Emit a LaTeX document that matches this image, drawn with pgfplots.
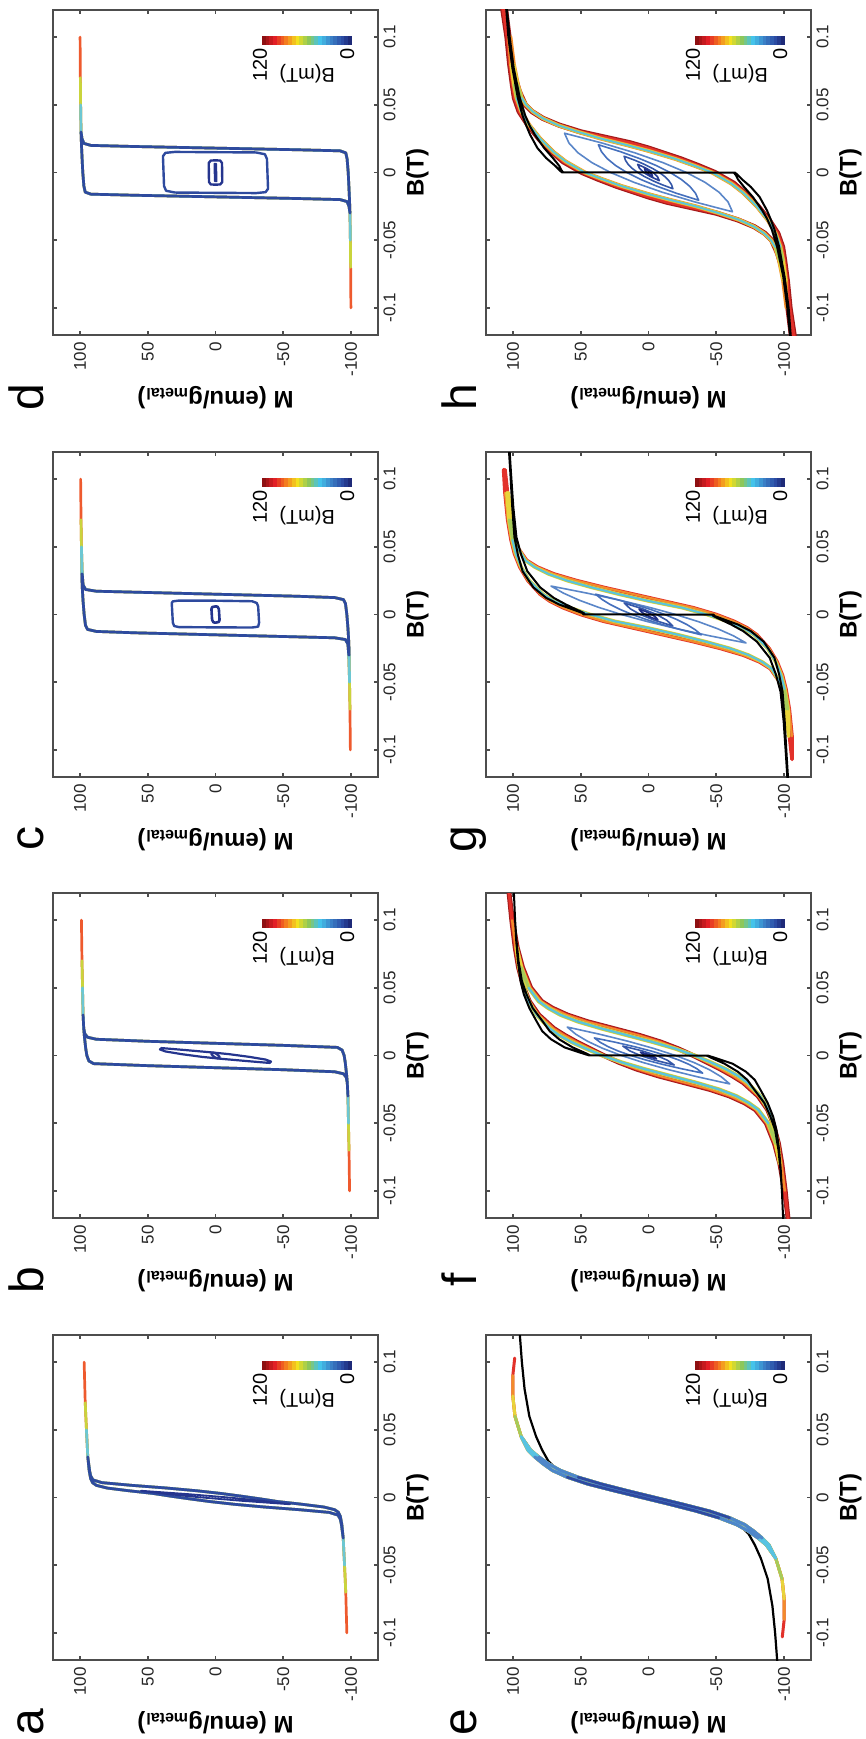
\documentclass[border=0pt]{standalone}
\usepackage{fontspec}
\setmainfont{Liberation Sans}
\usepackage{pgfplots}
\usepackage{pgfplotstable}
\pgfplotsset{compat=1.18}

\definecolor{axc}{HTML}{4D4D4D}
\definecolor{cbA}{HTML}{8E1012}
\definecolor{cbB}{HTML}{E21F26}
\definecolor{cbC}{HTML}{F47C20}
\definecolor{cbD}{HTML}{F2E11F}
\definecolor{cbE}{HTML}{8DC75A}
\definecolor{cbF}{HTML}{44C3EA}
\definecolor{cbG}{HTML}{3A7FC6}
\definecolor{cbH}{HTML}{2B4BA3}
\definecolor{cbI}{HTML}{1E2A78}
\definecolor{satR}{HTML}{EE5A2E}
\definecolor{satY}{HTML}{C9D43C}
\definecolor{satC}{HTML}{6CC7D2}
\definecolor{mainB}{HTML}{2E4A9E}
\definecolor{innerB}{HTML}{25358E}
\definecolor{cDR}{HTML}{A51A1A}
\definecolor{cR}{HTML}{E2312A}
\definecolor{cO}{HTML}{F28C2A}
\definecolor{cY}{HTML}{E8D43A}
\definecolor{cYG}{HTML}{A6CB5A}
\definecolor{cC}{HTML}{58C3E2}
\definecolor{cLB}{HTML}{4E86C9}
\definecolor{cB}{HTML}{2F4AA0}
\definecolor{mA}{HTML}{5A86C8}
\definecolor{mB}{HTML}{4570BD}
\definecolor{mC}{HTML}{3557A8}
\definecolor{mD}{HTML}{2A4299}
\definecolor{mE}{HTML}{21318A}

% ---------------- panel a ----------------
\pgfplotstableread{
B M
0.1 97
0.07 96.2
0.05 95.3
0.03 94.3
0.02 93.3
0.014 92.2
0.011 90.8
0.009 88
0.007 80
0.005 64
0.003 46
0.001 33
0 26
-0.001 19
-0.003 4
-0.005 -14
-0.007 -36
-0.009 -62
-0.011 -84
-0.013 -90.5
-0.016 -92.2
-0.02 -93
-0.03 -94.3
-0.05 -95.3
-0.07 -96.2
-0.1 -97
-0.07 -96.2
-0.05 -95.3
-0.03 -94.3
-0.02 -93.3
-0.014 -92.2
-0.011 -90.8
-0.009 -88
-0.007 -80
-0.005 -64
-0.003 -46
-0.001 -33
0 -26
0.001 -19
0.003 -4
0.005 14
0.007 36
0.009 62
0.011 84
0.013 90.5
0.016 92.2
0.02 93
0.03 94.3
0.05 95.3
0.07 96.2
0.1 97
}\dataAL
\pgfplotstableread{
B M
0.005 55
0.0025 35
0 10
-0.0025 -20
-0.005 -55
-0.0025 -35
0 -10
0.0025 20
0.005 55
}\dataAM

% ---------------- panel b ----------------
\pgfplotstableread{
B M
0.1 99
0.07 98.6
0.05 98.2
0.03 97.8
0.02 97.3
0.014 96.8
0.005 95.8
0 95
-0.004 93.5
-0.006 90
-0.0075 50
-0.009 0
-0.0105 -50
-0.012 -88
-0.0135 -94.5
-0.016 -96.5
-0.02 -97.3
-0.03 -97.8
-0.05 -98.2
-0.07 -98.6
-0.1 -99
-0.07 -98.6
-0.05 -98.2
-0.03 -97.8
-0.02 -97.3
-0.014 -96.8
-0.005 -95.8
0 -95
0.004 -93.5
0.006 -90
0.0075 -50
0.009 0
0.0105 50
0.012 88
0.0135 94.5
0.016 96.5
0.02 97.3
0.03 97.8
0.05 98.2
0.07 98.6
0.1 99
}\dataBL
\pgfplotstableread{
B M
0.0055 40
0.0045 41
0.003 37
0.001 25
-0.001 10
-0.0025 -5
-0.004 -22
-0.005 -34
-0.0055 -40
-0.0045 -41
-0.003 -37
-0.001 -25
0.001 -10
0.0025 5
0.004 22
0.005 34
0.0055 40
}\dataBM
\pgfplotstableread{
B M
0.002 3
0.001 3
-0.001 1
-0.002 -1
-0.002 -3
-0.001 -3
0.001 -1
0.002 1
0.002 3
}\dataBT

% ---------------- panel c ----------------
\pgfplotstableread{
B M
0.1 99.6
0.07 99.3
0.05 99
0.03 98.7
0.02 98.4
0.01 97.8
0 97
-0.008 96
-0.011 94.5
-0.0125 88
-0.0135 60
-0.0145 20
-0.0155 -20
-0.0165 -60
-0.0172 -88
-0.0185 -96
-0.022 -97.8
-0.03 -98.4
-0.05 -99
-0.07 -99.3
-0.1 -99.6
-0.07 -99.3
-0.05 -99
-0.03 -98.7
-0.02 -98.4
-0.01 -97.8
0 -97
0.008 -96
0.011 -94.5
0.0125 -88
0.0135 -60
0.0145 -20
0.0155 20
0.0165 60
0.0172 88
0.0185 96
0.022 97.8
0.03 98.4
0.05 99
0.07 99.3
0.1 99.6
}\dataCL
\pgfplotstableread{
B M
0.0102 0
0.0103 27
0.0097 31.5
0.0085 32.3
-0.006 31.5
-0.0085 30.5
-0.0093 27
-0.0095 0
-0.0096 -27
-0.009 -31.5
-0.006 -32.2
0.006 -31.5
0.0085 -30.5
0.0098 -27
0.0102 0
}\dataCM
\pgfplotstableread{
B M
0.006 0
0.0055 2.5
0.004 3
-0.004 2.5
-0.0058 1.5
-0.006 0
-0.0055 -2.5
-0.004 -3
0.004 -2.5
0.0058 -1.5
0.006 0
}\dataCT

% ---------------- panel d ----------------
\pgfplotstableread{
B M
0.1 100
0.07 99.8
0.05 99.6
0.03 99.3
0.021 99
0.01 98.5
0 98
-0.01 97.2
-0.0145 96.2
-0.016 92
-0.0168 60
-0.0176 20
-0.0184 -20
-0.0192 -60
-0.02 -92
-0.0215 -97.2
-0.025 -98.6
-0.03 -99.3
-0.05 -99.6
-0.07 -99.8
-0.1 -100
-0.07 -99.8
-0.05 -99.6
-0.03 -99.3
-0.021 -99
-0.01 -98.5
0 -98
0.01 -97.2
0.0145 -96.2
0.016 -92
0.0168 -60
0.0176 -20
0.0184 20
0.0192 60
0.02 92
0.0215 97.2
0.025 98.6
0.03 99.3
0.05 99.6
0.07 99.8
0.1 100
}\dataDL
\pgfplotstableread{
B M
0.015 0
0.0152 30
0.0145 37
0.012 38.8
-0.01 38
-0.0135 36.5
-0.0148 30
-0.015 0
-0.0152 -30
-0.0145 -37
-0.012 -38.8
0.01 -38
0.0135 -36.5
0.0148 -30
0.015 0
}\dataDM
\pgfplotstableread{
B M
0.009 0
0.0088 3.5
0.007 5
-0.007 4.8
-0.0088 3.5
-0.009 0
-0.0088 -3.5
-0.007 -5
0.007 -4.8
0.0088 -3.5
0.009 0
}\dataDT
\pgfplotstableread{
B M
0.0065 0.8
-0.0065 0.5
-0.0065 -0.8
0.0065 -0.5
0.0065 0.8
}\dataDU

% ---------------- panel e ----------------
\pgfplotstableread{
B M
0.103 98.8
0.09 100.2
0.075 100.2
0.06 98.6
0.045 94
0.035 89
0.03 84
0.025 78
0.02 71
0.015 60
0.01 45
0.005 25.5
0 5
-0.005 -15.5
-0.01 -35
-0.015 -52
-0.02 -65
-0.025 -74
-0.03 -81
-0.035 -87
-0.045 -94
-0.06 -98.6
-0.075 -100.2
-0.09 -100.2
-0.103 -98.8
-0.09 -100.2
-0.075 -100.2
-0.06 -98.6
-0.045 -94
-0.035 -89
-0.03 -84
-0.025 -78
-0.02 -71
-0.015 -60
-0.01 -45
-0.005 -25.5
0 -5
0.005 15.5
0.01 35
0.015 52
0.02 65
0.025 74
0.03 81
0.035 87
0.045 94
0.06 98.6
0.075 100.2
0.09 100.2
0.103 98.8
}\dataEL
\pgfplotstableread{
B M
-0.125 -95.5
-0.12 -95
-0.1 -93.5
-0.08 -91.5
-0.06 -88
-0.045 -83
-0.035 -78.5
-0.027 -74
-0.02 -67
-0.015 -56
-0.01 -40
-0.005 -20
0 0
0.005 20
0.01 40
0.015 56
0.02 67
0.027 74
0.035 78.5
0.045 83
0.06 88
0.08 91.5
0.1 93.5
0.12 95
0.125 95.5
}\dataEK

% ---------------- panel f ----------------
\pgfplotstableread{
B M
0.13 104
0.12 103
0.1 101
0.08 98.5
0.065 96
0.05 92
0.04 88
0.03 81
0.02 70
0.015 62
0.01 53
0.005 43
0 33
-0.005 22
-0.01 9
-0.015 -7
-0.02 -26
-0.025 -45
-0.03 -60
-0.035 -71
-0.04 -79
-0.05 -87
-0.065 -93
-0.08 -97
-0.1 -100.5
-0.12 -103
-0.13 -104
-0.12 -103
-0.1 -101
-0.08 -98.5
-0.065 -96
-0.05 -92
-0.04 -88
-0.03 -81
-0.02 -70
-0.015 -62
-0.01 -53
-0.005 -43
0 -33
0.005 -22
0.01 -9
0.015 7
0.02 26
0.025 45
0.03 60
0.035 71
0.04 79
0.05 87
0.065 93
0.08 97
0.1 100.5
0.12 103
0.13 104
}\dataFR
\pgfplotstableread{
B M
0.08 97.5
0.065 95.5
0.05 92
0.04 88.5
0.03 82.5
0.02 73
0.015 66
0.01 57
0.005 46
0 34
-0.005 20
-0.01 3
-0.015 -16
-0.02 -35
-0.025 -52
-0.03 -65
-0.035 -74
-0.04 -81
-0.05 -88.5
-0.065 -94
-0.08 -97
-0.065 -95.5
-0.05 -92
-0.04 -88.5
-0.03 -82.5
-0.02 -73
-0.015 -66
-0.01 -57
-0.005 -46
0 -34
0.005 -20
0.01 -3
0.015 16
0.02 35
0.025 52
0.03 65
0.035 74
0.04 81
0.05 88.5
0.065 94
0.08 97.5
}\dataFC
\pgfplotstableread{
B M
0.13 100
0.12 99.4
0.1 98.5
0.085 97.7
0.07 96.5
0.055 94.5
0.045 92
0.035 88
0.025 82.5
0.018 78.5
0.012 72
0.006 62
0.002 50
0.0001 44
-0.0001 -43
-0.002 -47
-0.006 -56
-0.012 -66
-0.018 -73
-0.025 -78
-0.035 -85.5
-0.045 -90
-0.055 -93.5
-0.07 -96
-0.085 -97.5
-0.1 -98.5
-0.12 -99.4
-0.13 -100
-0.12 -99.4
-0.1 -98.5
-0.085 -97.7
-0.07 -96.5
-0.055 -94.5
-0.045 -92
-0.035 -88
-0.025 -82.5
-0.018 -78.5
-0.012 -72
-0.006 -62
-0.002 -50
-0.0001 -44
0.0001 43
0.002 47
0.006 56
0.012 66
0.018 73
0.025 78
0.035 85.5
0.045 90
0.055 93.5
0.07 96
0.085 97.5
0.1 98.5
0.12 99.4
0.13 100
}\dataFK
\pgfplotstableread{
B M
0.021 60
0.01575 53.75
0.0105 45
0.00525 33.75
0 20
-0.00525 3.75
-0.0105 -15
-0.01575 -36.25
-0.021 -60
-0.01575 -53.75
-0.0105 -45
-0.00525 -33.75
0 -20
0.00525 -3.75
0.0105 15
0.01575 36.25
0.021 60
}\dataFmA
\pgfplotstableread{
B M
0.013 40
0.00975 35.7
0.0065 29.75
0.00325 22.2
0 13
-0.00325 2.2
-0.0065 -10.25
-0.00975 -24.3
-0.013 -40
-0.00975 -35.7
-0.0065 -29.75
-0.00325 -22.2
0 -13
0.00325 -2.2
0.0065 10.25
0.00975 24.3
0.013 40
}\dataFmB
\pgfplotstableread{
B M
0.007 19
0.0035 14
0 6
-0.0035 -5
-0.007 -19
-0.0035 -14
0 -6
0.0035 5
0.007 19
}\dataFmC
\pgfplotstableread{
B M
0.0025 6
0.00125 4.5
0 2
-0.00125 -1.5
-0.0025 -6
-0.00125 -4.5
0 -2
0.00125 1.5
0.0025 6
}\dataFmD

% ---------------- panel g ----------------
\pgfplotstableread{
B M
0.107 107
0.09 106
0.07 104
0.055 101.5
0.045 99
0.035 95
0.025 89
0.015 80
0.01 73
0.005 63
0 50
-0.005 33
-0.01 11
-0.015 -11
-0.02 -33
-0.025 -53
-0.03 -70
-0.035 -82
-0.04 -90
-0.05 -97
-0.06 -100
-0.08 -103
-0.107 -106
-0.09 -106
-0.07 -104
-0.055 -101.5
-0.045 -99
-0.035 -95
-0.025 -89
-0.015 -80
-0.01 -73
-0.005 -63
0 -50
0.005 -33
0.01 -11
0.015 11
0.02 33
0.025 53
0.03 70
0.035 82
0.04 90
0.05 97
0.06 100
0.08 103
0.107 106
}\dataGR
\pgfplotstableread{
B M
0.09 104.5
0.07 103
0.055 100.5
0.045 98
0.035 94
0.025 88
0.015 78
0.01 70
0.005 58
0 43
-0.005 25
-0.01 0
-0.015 -22
-0.02 -42
-0.025 -60
-0.03 -74
-0.035 -84
-0.04 -91
-0.05 -97
-0.06 -99.5
-0.07 -101.5
-0.09 -103.5
-0.07 -103
-0.055 -100.5
-0.045 -98
-0.035 -94
-0.025 -88
-0.015 -78
-0.01 -70
-0.005 -58
0 -43
0.005 -25
0.01 0
0.015 22
0.02 42
0.025 60
0.03 74
0.035 84
0.04 91
0.05 97
0.06 99.5
0.07 101.5
0.09 103.5
}\dataGC
\pgfplotstableread{
B M
0.125 103.5
0.12 103
0.104 102
0.079 100.6
0.057 99
0.044 96.4
0.032 93
0.02 85
0.0123 75.6
0.0074 66
0.0012 49
0.0001 48
-0.0001 -47
-0.0012 -48
-0.0074 -61
-0.0123 -70
-0.02 -80
-0.032 -89.5
-0.044 -94
-0.057 -97.5
-0.079 -99.8
-0.104 -101.5
-0.12 -102.5
-0.125 -103
-0.12 -103
-0.104 -102
-0.079 -100.6
-0.057 -99
-0.044 -96.4
-0.032 -93
-0.02 -85
-0.0123 -75.6
-0.0074 -66
-0.0012 -49
-0.0001 -48
0.0001 47
0.0012 48
0.0074 61
0.0123 70
0.02 80
0.032 89.5
0.044 94
0.057 97.5
0.079 99.8
0.104 101.5
0.12 102.5
0.125 103
}\dataGK
\pgfplotstableread{
B M
0.021 72
0.01575 62.75
0.0105 51
0.00525 36.75
0 20
-0.00525 0.75
-0.0105 -21
-0.01575 -45.25
-0.021 -72
-0.01575 -62.75
-0.0105 -51
-0.00525 -36.75
0 -20
0.00525 -0.75
0.0105 21
0.01575 45.25
0.021 72
}\dataGmA
\pgfplotstableread{
B M
0.015 39
0.01125 34.5
0.0075 28.5
0.00375 21
0 12
-0.00375 1.5
-0.0075 -10.5
-0.01125 -24
-0.015 -39
-0.01125 -34.5
-0.0075 -28.5
-0.00375 -21
0 -12
0.00375 -1.5
0.0075 10.5
0.01125 24
0.015 39
}\dataGmB
\pgfplotstableread{
B M
0.0085 18
0.00425 13.5
0 6
-0.00425 -4.5
-0.0085 -18
-0.00425 -13.5
0 -6
0.00425 4.5
0.0085 18
}\dataGmC
\pgfplotstableread{
B M
0.004 7
0.002 5.4
0 2.5
-0.002 -1.6
-0.004 -7
-0.002 -5.4
0 -2.5
0.002 1.6
0.004 7
}\dataGmD

% ---------------- panel h ----------------
\pgfplotstableread{
B M
0.13 108.5
0.12 107.5
0.1 104.5
0.08 102.5
0.065 100.5
0.055 99
0.045 95.5
0.035 89
0.025 81
0.015 71
0.008 63
0 49
-0.005 37
-0.01 24
-0.015 9
-0.018 0
-0.022 -14
-0.026 -32
-0.03 -50
-0.035 -66
-0.04 -78
-0.045 -86
-0.05 -91
-0.06 -95.5
-0.07 -98.5
-0.08 -100.5
-0.1 -103
-0.12 -105.5
-0.13 -106.5
-0.13 -108.5
-0.12 -107.5
-0.1 -104.5
-0.08 -102.5
-0.065 -100.5
-0.055 -99
-0.045 -95.5
-0.035 -89
-0.025 -81
-0.015 -71
-0.008 -63
0 -49
0.005 -37
0.01 -24
0.015 -9
0.018 0
0.022 14
0.026 32
0.03 50
0.035 66
0.04 78
0.045 86
0.05 91
0.06 95.5
0.07 98.5
0.08 100.5
0.1 103
0.12 105.5
0.13 106.5
}\dataHR
\pgfplotstableread{
B M
0.1 103
0.08 101.5
0.065 99.5
0.055 97.5
0.045 94
0.035 88
0.025 80
0.015 70
0.008 61
0 47
-0.005 34
-0.01 20
-0.016 0
-0.02 -15
-0.025 -35
-0.03 -52
-0.035 -67
-0.04 -78
-0.045 -85.5
-0.05 -90.5
-0.055 -93.5
-0.065 -96.5
-0.08 -99.5
-0.1 -102
-0.08 -101.5
-0.065 -99.5
-0.055 -97.5
-0.045 -94
-0.035 -88
-0.025 -80
-0.015 -70
-0.008 -61
0 -47
0.005 -34
0.01 -20
0.016 0
0.02 15
0.025 35
0.03 52
0.035 67
0.04 78
0.045 85.5
0.05 90.5
0.055 93.5
0.065 96.5
0.08 99.5
0.1 102
}\dataHC
\pgfplotstableread{
B M
0.13 106.5
0.12 105
0.1 103.5
0.077 100.5
0.055 96.5
0.042 93
0.034 90
0.028 87.5
0.018 82
0.0106 75.5
0.005 69
0.002 66
0.0001 64
-0.0001 -63
-0.002 -64.5
-0.005 -66
-0.0106 -70.5
-0.018 -77
-0.028 -84
-0.034 -87.5
-0.042 -91
-0.055 -95
-0.077 -99.5
-0.1 -102.5
-0.12 -104.5
-0.13 -105.5
-0.13 -106.5
-0.12 -105
-0.1 -103.5
-0.077 -100.5
-0.055 -96.5
-0.042 -93
-0.034 -90
-0.028 -87.5
-0.018 -82
-0.0106 -75.5
-0.005 -69
-0.002 -66
-0.0001 -64
0.0001 63
0.002 64.5
0.005 66
0.0106 70.5
0.018 77
0.028 84
0.034 87.5
0.042 91
0.055 95
0.077 99.5
0.1 102.5
0.12 104.5
0.13 105.5
}\dataHK
\pgfplotstableread{
B M
0.029 62
0.02175 58.75
0.0145 52
0.00725 41.75
0 28
-0.00725 10.75
-0.0145 -10
-0.02175 -34.25
-0.029 -62
-0.02175 -58.75
-0.0145 -52
-0.00725 -41.75
0 -28
0.00725 -10.75
0.0145 10
0.02175 34.25
0.029 62
}\dataHmA
\pgfplotstableread{
B M
0.0205 37
0.015375 34.75
0.01025 30.5
0.005125 24.25
0 16
-0.005125 5.75
-0.01025 -6.5
-0.015375 -20.75
-0.0205 -37
-0.015375 -34.75
-0.01025 -30.5
-0.005125 -24.25
0 -16
0.005125 -5.75
0.01025 6.5
0.015375 20.75
0.0205 37
}\dataHmB
\pgfplotstableread{
B M
0.012 18
0.009 17
0.006 15
0.003 12
0 8
-0.003 3
-0.006 -3
-0.009 -10
-0.012 -18
-0.009 -17
-0.006 -15
-0.003 -12
0 -8
0.003 -3
0.006 3
0.009 10
0.012 18
}\dataHmC
\pgfplotstableread{
B M
0.006 8
0.003 6.6
0 3.5
-0.003 -1.4
-0.006 -8
-0.003 -6.6
0 -3.5
0.003 1.4
0.006 8
}\dataHmD
\pgfplotstableread{
B M
0.003 3
0.0015 2.55
0 1.4
-0.0015 -0.45
-0.003 -3
-0.0015 -2.55
0 -1.4
0.0015 0.45
0.003 3
}\dataHmE

\pgfplotsset{
  hpanel/.style={
    scale only axis, width=162.5pt, height=162.5pt, anchor=center,
    xmin=-120, xmax=120, x dir=reverse,
    ymin=-0.12, ymax=0.12,
    xtick={-100,-50,0,50,100}, xticklabels={-100,-50,0,50,100},
    ytick={-0.1,-0.05,0,0.05,0.1}, yticklabels={-0.1,-0.05,0,0.05,0.1},
    tick align=inside, tick pos=both, yticklabel pos=right,
    major tick length=2pt,
    axis line style={draw=axc, line width=0.8pt},
    tick style={draw=axc, line width=0.8pt},
    xticklabel style={rotate=90, anchor=east, inner sep=0.5pt, font=\fontsize{8.5}{10}\selectfont, text=black!85},
    yticklabel style={rotate=90, anchor=north, inner sep=0.5pt, font=\fontsize{8.5}{10}\selectfont, text=black!85},
    xticklabel shift=3pt, yticklabel shift=2pt,
    clip mode=individual, no markers,
    every axis plot/.append style={line join=round, line cap=round},
  },
  lwA/.style={line width=1.35pt},
}

\newcommand{\cbseg}[3]{\fill[#1] (axis description cs:#2,0.892) rectangle (axis description cs:#3,0.92);}
\newcommand{\decor}[1]{%
  \cbseg{cbA}{0.6430}{0.6565}
  \cbseg{cbA!67!cbB}{0.6545}{0.6681}
  \cbseg{cbA!33!cbB}{0.6661}{0.6796}
  \cbseg{cbB}{0.6776}{0.6912}
  \cbseg{cbB!67!cbC}{0.6892}{0.7027}
  \cbseg{cbB!33!cbC}{0.7007}{0.7143}
  \cbseg{cbC}{0.7123}{0.7258}
  \cbseg{cbC!67!cbD}{0.7238}{0.7373}
  \cbseg{cbC!33!cbD}{0.7353}{0.7489}
  \cbseg{cbD}{0.7469}{0.7604}
  \cbseg{cbD!67!cbE}{0.7584}{0.7720}
  \cbseg{cbD!33!cbE}{0.7700}{0.7835}
  \cbseg{cbE}{0.7815}{0.7950}
  \cbseg{cbE!67!cbF}{0.7930}{0.8066}
  \cbseg{cbE!33!cbF}{0.8046}{0.8181}
  \cbseg{cbF}{0.8161}{0.8297}
  \cbseg{cbF!67!cbG}{0.8277}{0.8412}
  \cbseg{cbF!33!cbG}{0.8392}{0.8528}
  \cbseg{cbG}{0.8508}{0.8643}
  \cbseg{cbG!67!cbH}{0.8623}{0.8758}
  \cbseg{cbG!33!cbH}{0.8738}{0.8874}
  \cbseg{cbH}{0.8854}{0.8989}
  \cbseg{cbH!50!cbI}{0.8969}{0.9105}
  \cbseg{cbI}{0.9085}{0.9200}
  \node[rotate=90, anchor=east, inner sep=0pt, font=\fontsize{10}{12}\selectfont] at (axis description cs:0.637,0.883) {120};
  \node[rotate=90, anchor=east, inner sep=0pt, font=\fontsize{10}{12}\selectfont] at (axis description cs:0.905,0.883) {0};
  \node[rotate=180, inner sep=0pt, font=\fontsize{10}{12}\selectfont] at (axis description cs:0.782,0.805) {B(mT)};
  \node[rotate=180, inner sep=0pt, font=\bfseries\fontsize{12}{14}\selectfont] at (axis description cs:0.5,-0.194) {M (emu/g\textsubscript{metal})};
  \node[rotate=90, inner sep=0pt, font=\bfseries\fontsize{12}{14}\selectfont] at (axis description cs:1.1215,0.5) {B(T)};
  \node[rotate=90, anchor=base, inner sep=0pt, font=\fontsize{24}{28}\selectfont] at (axis description cs:-0.03,-0.19) {#1};
}

\begin{document}
\begin{tikzpicture}
\path[use as bounding box] (0,0) rectangle (433pt,-869.5pt);

% ---- a ----
\begin{axis}[hpanel, at={(107.75pt,-748.75pt)}]
\addplot[satR, lwA] table[x=M,y=B]{\dataAL};
\addplot[satY, lwA, restrict y to domain=-0.0705:0.0705] table[x=M,y=B]{\dataAL};
\addplot[satC, lwA, restrict y to domain=-0.0505:0.0505] table[x=M,y=B]{\dataAL};
\addplot[mainB, lwA, restrict y to domain=-0.0305:0.0305] table[x=M,y=B]{\dataAL};
\addplot[innerB, line width=0.9pt] table[x=M,y=B]{\dataAM};
\decor{a}
\end{axis}

% ---- b ----
\begin{axis}[hpanel, at={(107.75pt,-527.75pt)}]
\addplot[satR, lwA] table[x=M,y=B]{\dataBL};
\addplot[satY, lwA, restrict y to domain=-0.0705:0.0705] table[x=M,y=B]{\dataBL};
\addplot[satC, lwA, restrict y to domain=-0.0505:0.0505] table[x=M,y=B]{\dataBL};
\addplot[mainB, lwA, restrict y to domain=-0.0305:0.0305] table[x=M,y=B]{\dataBL};
\addplot[innerB, line width=1.1pt] table[x=M,y=B]{\dataBM};
\addplot[innerB, line width=1.1pt] table[x=M,y=B]{\dataBT};
\decor{b}
\end{axis}

% ---- c ----
\begin{axis}[hpanel, at={(107.75pt,-307.25pt)}]
\addplot[satR, lwA] table[x=M,y=B]{\dataCL};
\addplot[satY, lwA, restrict y to domain=-0.0705:0.0705] table[x=M,y=B]{\dataCL};
\addplot[satC, lwA, restrict y to domain=-0.0505:0.0505] table[x=M,y=B]{\dataCL};
\addplot[mainB, lwA, restrict y to domain=-0.0305:0.0305] table[x=M,y=B]{\dataCL};
\addplot[mainB, line width=1.2pt] table[x=M,y=B]{\dataCM};
\addplot[innerB, line width=1.3pt] table[x=M,y=B]{\dataCT};
\decor{c}
\end{axis}

% ---- d ----
\begin{axis}[hpanel, at={(107.75pt,-86.25pt)}]
\addplot[satR, lwA] table[x=M,y=B]{\dataDL};
\addplot[satY, lwA, restrict y to domain=-0.0705:0.0705] table[x=M,y=B]{\dataDL};
\addplot[satC, lwA, restrict y to domain=-0.0505:0.0505] table[x=M,y=B]{\dataDL};
\addplot[mainB, lwA, restrict y to domain=-0.0305:0.0305] table[x=M,y=B]{\dataDL};
\addplot[mainB, line width=1.2pt] table[x=M,y=B]{\dataDM};
\addplot[innerB, line width=1.2pt] table[x=M,y=B]{\dataDT};
\addplot[innerB, line width=0.9pt] table[x=M,y=B]{\dataDU};
\decor{d}
\end{axis}

% ---- e ----
\begin{axis}[hpanel, at={(324.25pt,-748.75pt)}]
\addplot[black, line width=1.1pt] table[x=M,y=B]{\dataEK};
\addplot[cR, line width=1.5pt] table[x=M,y=B]{\dataEL};
\addplot[cO, line width=1.5pt, restrict y to domain=-0.0905:0.0905] table[x=M,y=B]{\dataEL};
\addplot[cY, line width=1.5pt, restrict y to domain=-0.0755:0.0755] table[x=M,y=B]{\dataEL};
\addplot[cYG, line width=1.5pt, restrict y to domain=-0.0605:0.0605] table[x=M,y=B]{\dataEL};
\addplot[cC, line width=1.5pt, restrict y to domain=-0.0455:0.0455] table[x=M,y=B]{\dataEL};
\addplot[cLB, line width=1.5pt, restrict y to domain=-0.0305:0.0305] table[x=M,y=B]{\dataEL};
\addplot[cB, line width=1.3pt, restrict y to domain=-0.0155:0.0155] table[x=M,y=B]{\dataEL};
\decor{e}
\end{axis}

% ---- f ----
\begin{axis}[hpanel, at={(324.25pt,-527.75pt)}]
\addplot[cDR, line width=2.4pt] table[x=M,y=B]{\dataFR};
\addplot[cR, line width=1.4pt] table[x=M,y=B]{\dataFR};
\addplot[cO, line width=0.8pt, restrict y to domain=-0.1005:0.1005] table[x=M,y=B]{\dataFR};
\addplot[cY, line width=2.0pt] table[x=M,y=B]{\dataFC};
\addplot[cYG, line width=1.5pt, restrict y to domain=-0.0655:0.0655] table[x=M,y=B]{\dataFC};
\addplot[cC, line width=1.0pt, restrict y to domain=-0.0505:0.0505] table[x=M,y=B]{\dataFC};
\addplot[mA, line width=0.8pt] table[x=M,y=B]{\dataFmA};
\addplot[mB, line width=0.8pt] table[x=M,y=B]{\dataFmB};
\addplot[mC, line width=0.8pt] table[x=M,y=B]{\dataFmC};
\addplot[mE, line width=0.8pt] table[x=M,y=B]{\dataFmD};
\addplot[black, line width=1.0pt] table[x=M,y=B]{\dataFK};
\decor{f}
\end{axis}

% ---- g ----
\begin{axis}[hpanel, at={(324.25pt,-307.25pt)}]
\addplot[cR, line width=1.8pt] table[x=M,y=B]{\dataGR};
\addplot[cO, line width=1.0pt, restrict y to domain=-0.0905:0.0905] table[x=M,y=B]{\dataGR};
\addplot[cY, line width=1.8pt] table[x=M,y=B]{\dataGC};
\addplot[cYG, line width=1.3pt, restrict y to domain=-0.0705:0.0705] table[x=M,y=B]{\dataGC};
\addplot[cC, line width=0.9pt, restrict y to domain=-0.0555:0.0555] table[x=M,y=B]{\dataGC};
\addplot[mA, line width=0.8pt] table[x=M,y=B]{\dataGmA};
\addplot[mB, line width=0.8pt] table[x=M,y=B]{\dataGmB};
\addplot[mC, line width=0.8pt] table[x=M,y=B]{\dataGmC};
\addplot[mE, line width=0.8pt] table[x=M,y=B]{\dataGmD};
\addplot[black, line width=1.0pt] table[x=M,y=B]{\dataGK};
\decor{g}
\end{axis}

% ---- h ----
\begin{axis}[hpanel, at={(324.25pt,-86.25pt)}]
\addplot[cDR, line width=2.6pt] table[x=M,y=B]{\dataHR};
\addplot[cR, line width=1.4pt] table[x=M,y=B]{\dataHR};
\addplot[cO, line width=2.0pt] table[x=M,y=B]{\dataHC};
\addplot[cY, line width=1.5pt, restrict y to domain=-0.0805:0.0805] table[x=M,y=B]{\dataHC};
\addplot[cYG, line width=1.1pt, restrict y to domain=-0.0655:0.0655] table[x=M,y=B]{\dataHC};
\addplot[cC, line width=0.8pt, restrict y to domain=-0.0555:0.0555] table[x=M,y=B]{\dataHC};
\addplot[mA, line width=0.8pt] table[x=M,y=B]{\dataHmA};
\addplot[mB, line width=0.8pt] table[x=M,y=B]{\dataHmB};
\addplot[mC, line width=0.8pt] table[x=M,y=B]{\dataHmC};
\addplot[mD, line width=0.8pt] table[x=M,y=B]{\dataHmD};
\addplot[mE, line width=0.8pt] table[x=M,y=B]{\dataHmE};
\addplot[black, line width=1.0pt] table[x=M,y=B]{\dataHK};
\decor{h}
\end{axis}
\end{tikzpicture}
\end{document}
